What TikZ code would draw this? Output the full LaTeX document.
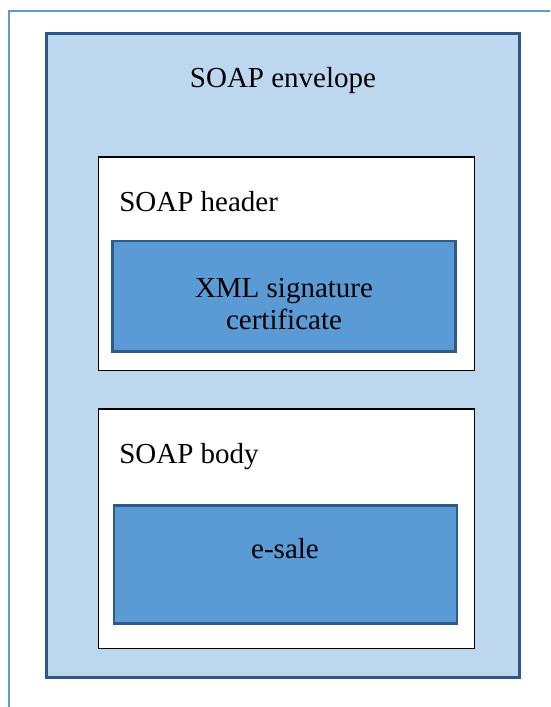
\documentclass[tikz,border=0pt]{standalone}
\usepackage{fontspec}
\setmainfont{Liberation Serif}
\usetikzlibrary{positioning}
\definecolor{framblue}{HTML}{5B9BD5}
\definecolor{envfill}{HTML}{BDD7EE}
\definecolor{envline}{HTML}{2F5689}
\definecolor{sigfill}{HTML}{5B9BD5}
\definecolor{sigline}{HTML}{2E5A88}

\begin{document}
\begin{tikzpicture}[x=0.75pt, y=-0.75pt, font=\fontsize{21.75}{23.8}\selectfont]
            \tikzstyle{envbox} = [draw=envline, fill=envfill, line width=2.25pt]
            \tikzstyle{partbox} = [draw=black, fill=white, line width=1.1pt]
            \tikzstyle{itembox} = [draw=sigline, fill=sigfill, line width=1.6pt]
            \tikzstyle{label} = [inner sep=0pt]
            \useasboundingbox (0, 0) rectangle (550, 707);

            \draw [framblue, line width=1.5pt] (9, 707) -- (9, 11) -- (550, 11);

            \draw [envbox] (46.5, 33.5) rectangle (519.5, 677);

            \draw [partbox] (98.5, 157) rectangle (474.5, 370.5);
            \draw [itembox] (112.5, 241) rectangle (455.5, 351.5);

            \draw [partbox] (98.5, 409) rectangle (474.5, 648.5);
            \draw [itembox] (114, 505.5) rectangle (457, 623.5);

            \node[label, anchor=base] (envtitle) at (283, 87) {SOAP envelope};
            \node[label, anchor=base west] (headtitle) at (119, 211) {SOAP header};
            \node[label, align=center] (sigtext) at (284, 304) {XML signature\\certificate};
            \node[label, anchor=base west] (bodytitle) at (119, 463) {SOAP body};
            \node[label, anchor=base] (saletext) at (285, 558) {e-sale};
            
        \end{tikzpicture}
\end{document}
